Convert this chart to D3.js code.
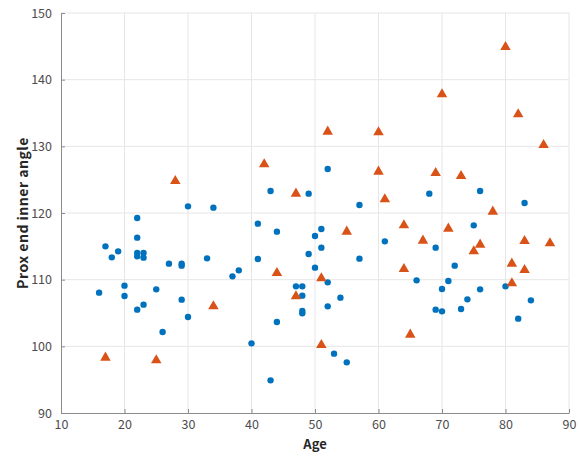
<!DOCTYPE html>
<html>
<head>
<meta charset="utf-8">
<script src="https://cdn.jsdelivr.net/npm/d3@7"></script>
<style>
  body { margin: 0; background: #fff; }
  text { font-family: "Noto Sans CJK JP", "Noto Sans", sans-serif; }
</style>
</head>
<body>
<div id="chart"></div>
<script>
// blue circles
const blueAge = [16, 17, 18, 19, 20, 20, 22, 22, 22, 22, 22, 23, 23, 23, 25, 26, 27, 29, 29, 29,
  30, 30, 33, 34, 37, 38, 40, 41, 41, 43, 43, 44, 44, 47, 48, 48, 48, 48, 49, 49,
  50, 50, 51, 51, 52, 52, 52, 53, 54, 55, 57, 57, 61, 66, 68, 69, 69, 70, 70, 71,
  72, 73, 74, 75, 76, 76, 80, 82, 83, 84];
const blueAngle = [108.05, 115, 113.35, 114.25, 109.1, 107.55, 119.25, 116.3, 114, 113.5, 105.5, 114, 113.3, 106.25, 108.55, 102.15, 112.4, 112.4, 112.1, 107,
  121, 104.4, 113.2, 120.8, 110.5, 111.4, 100.45, 118.4, 113.1, 123.3, 94.9, 117.2, 103.65, 109, 109, 107.6, 105.3, 104.95, 122.9, 113.85,
  116.55, 111.8, 117.6, 114.8, 126.6, 109.6, 106, 98.9, 107.3, 97.6, 121.2, 113.15, 115.75, 109.9, 122.9, 114.8, 105.5, 108.6, 105.25, 109.8,
  112.1, 105.6, 107.05, 118.15, 123.3, 108.55, 109, 104.15, 121.5, 106.9];

// orange triangles
const orangeAge = [17, 25, 28, 34, 42, 44, 47, 47, 51, 51, 52, 55, 60, 60, 61, 64, 64, 65, 67, 69,
  70, 71, 73, 75, 76, 78, 80, 81, 81, 82, 83, 83, 86, 87];
const orangeAngle = [98.3, 97.9, 124.8, 106, 127.3, 111, 122.9, 107.5, 110.2, 100.2, 132.2, 117.2, 132.1, 126.2, 122.05, 118.15, 111.6, 101.75, 115.85, 126,
  137.8, 117.65, 125.55, 114.25, 115.25, 120.2, 144.9, 112.4, 109.45, 134.8, 115.8, 111.45, 130.2, 115.45];

const xTicks = [10, 20, 30, 40, 50, 60, 70, 80, 90];
const yTicks = [90, 100, 110, 120, 130, 140, 150];

const margin = { top: 13, right: 11, bottom: 44, left: 61 };
const width = 580 - margin.left - margin.right;
const height = 457 - margin.top - margin.bottom;

const svg = d3.select("#chart")
  .append("svg")
  .attr("width", 580)
  .attr("height", 457)
  .append("g")
  .attr("transform", `translate(${margin.left},${margin.top})`);

const x = d3.scaleLinear().domain([10, 90]).range([0, width]);
const y = d3.scaleLinear().domain([90, 150]).range([height, 0]);

// grid
svg.append("g")
  .selectAll("line")
  .data(xTicks.slice(1))
  .join("line")
  .attr("x1", d => x(d)).attr("x2", d => x(d))
  .attr("y1", 0).attr("y2", height)
  .attr("stroke", "#e6e6e6");

svg.append("g")
  .selectAll("line")
  .data(yTicks.slice(1))
  .join("line")
  .attr("x1", 0).attr("x2", width)
  .attr("y1", d => y(d)).attr("y2", d => y(d))
  .attr("stroke", "#e6e6e6");

// axes
const xAxis = d3.axisBottom(x).tickValues(xTicks).tickSizeInner(-4).tickSizeOuter(0).tickPadding(7);
const yAxis = d3.axisLeft(y).tickValues(yTicks).tickSizeInner(-4).tickSizeOuter(0).tickPadding(9);

const gx = svg.append("g")
  .attr("transform", `translate(0,${height})`)
  .call(xAxis);
const gy = svg.append("g").call(yAxis);

[gx, gy].forEach(g => {
  g.select(".domain").attr("stroke", "#8c8c8c");
  g.selectAll(".tick line").attr("stroke", "#8c8c8c");
  g.selectAll(".tick text")
    .attr("fill", "#4d4d4d")
    .style("font-size", "12.5px")
    .style("font-family", '"Noto Sans CJK JP", "Noto Sans", sans-serif');
});

// labels
svg.append("text")
  .attr("x", width / 2)
  .attr("y", height + 36)
  .attr("text-anchor", "middle")
  .attr("fill", "#262626")
  .style("font-size", "13px")
  .style("font-weight", "bold")
  .text("Age");

svg.append("text")
  .attr("transform", "rotate(-90)")
  .attr("x", -height / 2)
  .attr("y", -33)
  .attr("text-anchor", "middle")
  .attr("fill", "#262626")
  .style("font-size", "14px")
  .style("font-weight", "bold")
  .style("letter-spacing", "0.5px")
  .text("Prox end inner angle");

// points
svg.append("g")
  .selectAll("circle")
  .data(blueAge.map((a, i) => [a, blueAngle[i]]))
  .join("circle")
  .attr("cx", d => x(d[0]))
  .attr("cy", d => y(d[1]))
  .attr("r", 3.2)
  .attr("fill", "#0072BD");

const tri = d3.symbol().type(d3.symbolTriangle).size(48);
svg.append("g")
  .selectAll("path")
  .data(orangeAge.map((a, i) => [a, orangeAngle[i]]))
  .join("path")
  .attr("d", tri)
  .attr("transform", d => `translate(${x(d[0])},${y(d[1])})`)
  .attr("fill", "#D95319");
</script>
</body>
</html>
